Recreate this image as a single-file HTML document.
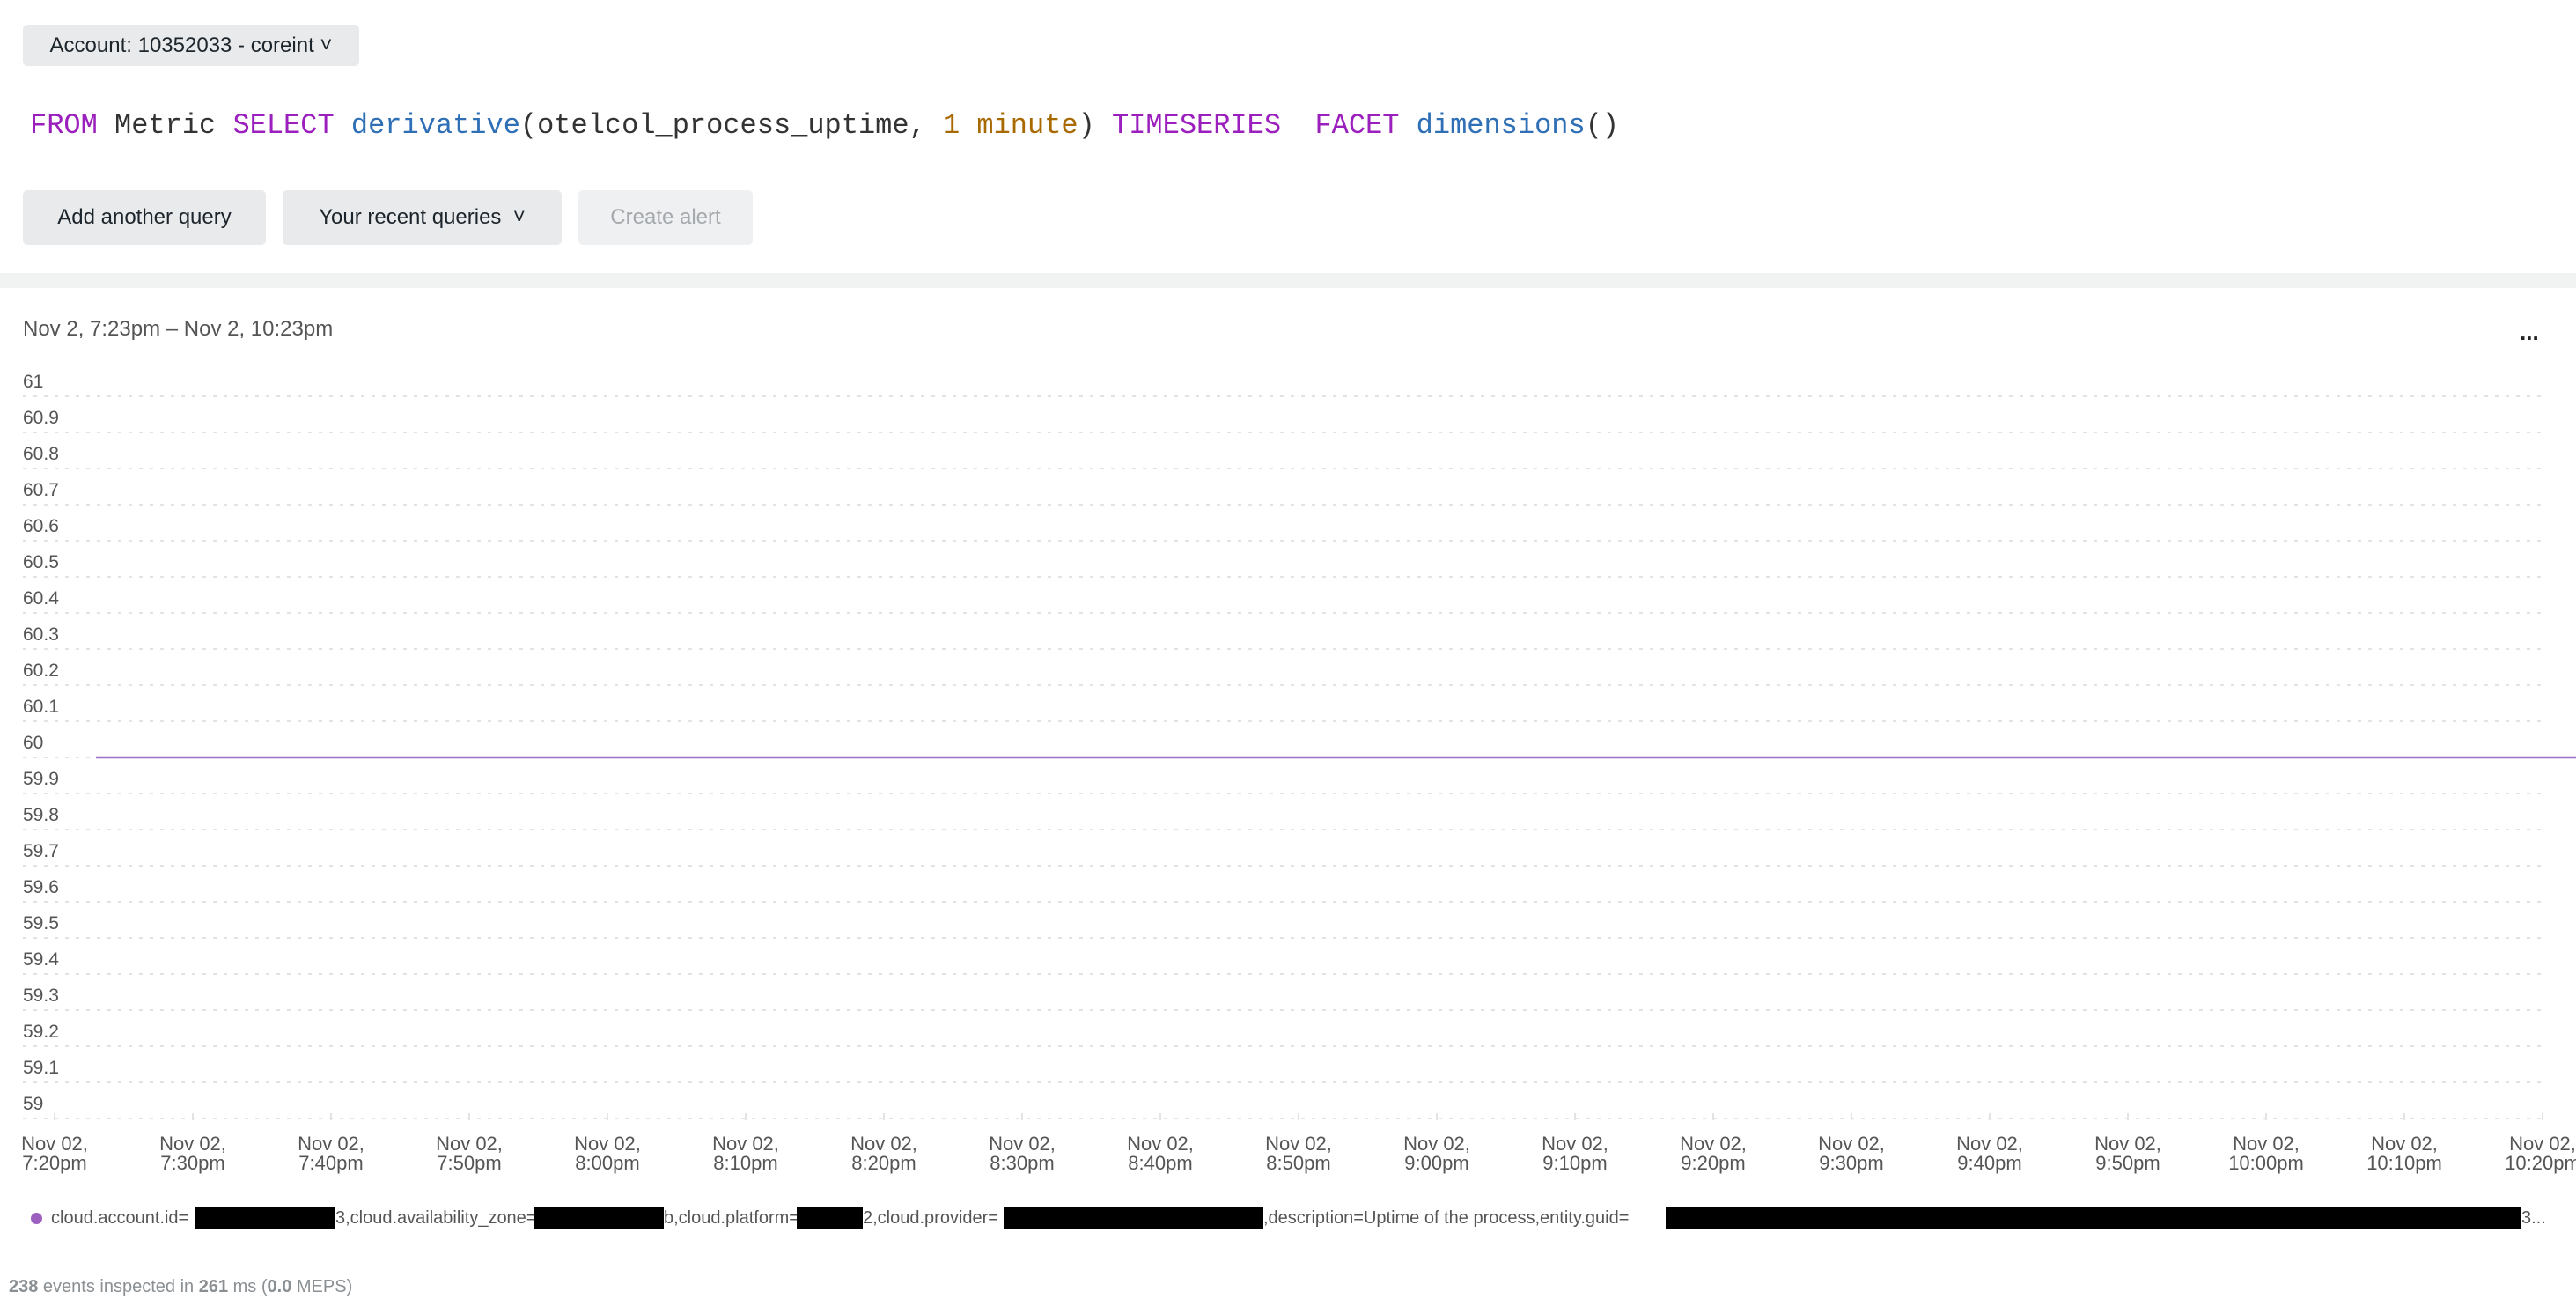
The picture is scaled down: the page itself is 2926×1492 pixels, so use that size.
<!DOCTYPE html>
<html><head><meta charset="utf-8"><style>
*{margin:0;padding:0;box-sizing:border-box}
body{width:2926px;height:1492px;background:#fff;font-family:"Liberation Sans",sans-serif;position:relative;overflow:hidden;color:#222}
.btn{position:absolute;background:#e8eaeb;border-radius:5px;font-size:24px;display:flex;align-items:center;justify-content:center;color:#1d252c}
.q{position:absolute;left:34px;top:124px;font-family:"Liberation Mono",monospace;font-size:32px;white-space:pre;color:#333}
.kw{color:#9b1fbd}.fn{color:#2f6fb5}.num{color:#a86a00}
.seg{position:absolute;top:1371px;font-size:20px;color:#555;white-space:pre;line-height:24px}
.red{position:absolute;top:1370px;height:26px;background:#000}
</style></head><body>
<div class="btn" style="left:26px;top:28px;width:382px;height:47px">Account: 10352033 - coreint ˅</div>
<div class="q"><span class="kw">FROM</span> Metric <span class="kw">SELECT</span> <span class="fn">derivative</span>(otelcol_process_uptime, <span class="num">1 minute</span>) <span class="kw">TIMESERIES</span>  <span class="kw">FACET</span> <span class="fn">dimensions</span>()</div>
<div class="btn" style="left:26px;top:216px;width:276px;height:62px">Add another query</div>
<div class="btn" style="left:321px;top:216px;width:317px;height:62px">Your recent queries &nbsp;˅</div>
<div class="btn" style="left:657px;top:216px;width:198px;height:62px;color:#a5a9ad;background:#eef0f1">Create alert</div>
<div style="position:absolute;left:0;top:310px;width:2926px;height:17px;background:#f1f2f2"></div>
<div style="position:absolute;left:26px;top:360px;font-size:24px;color:#555">Nov 2, 7:23pm – Nov 2, 10:23pm</div>
<div style="position:absolute;left:2862px;top:362px;font-size:26px;font-weight:bold;color:#222">...</div>
<svg id="chart" width="2926" height="1360" style="position:absolute;left:0;top:0"></svg>
<div style="position:absolute;left:35px;top:1377px;width:13px;height:13px;border-radius:50%;background:#9b5fc0"></div>
<div>
<span class="seg" style="left:58px">cloud.account.id=</span><div class="red" style="left:222px;width:159px"></div>
<span class="seg" style="left:381px">3,cloud.availability_zone=</span><div class="red" style="left:607px;width:147px"></div>
<span class="seg" style="left:754px">b,cloud.platform=</span><div class="red" style="left:905px;width:75px"></div>
<span class="seg" style="left:980px">2,cloud.provider=</span><div class="red" style="left:1140px;width:295px"></div>
<span class="seg" style="left:1435px">,description=Uptime of the process,entity.guid=</span><div class="red" style="left:1892px;width:972px"></div>
<span class="seg" style="left:2864px">3...</span>
</div>
<div style="position:absolute;left:10px;top:1450px;font-size:20px;color:#8a8f93"><b>238</b> events inspected in <b>261</b> ms (<b>0.0</b> MEPS)</div>
<script>
const yTicks=[59,59.1,59.2,59.3,59.4,59.5,59.6,59.7,59.8,59.9,60,60.1,60.2,60.3,60.4,60.5,60.6,60.7,60.8,60.9,61];
const xTickMinutes=[0,10,20,30,40,50,60,70,80,90,100,110,120,130,140,150,160,170,180];
const xTickLabels=["7:20pm","7:30pm","7:40pm","7:50pm","8:00pm","8:10pm","8:20pm","8:30pm","8:40pm","8:50pm","9:00pm","9:10pm","9:20pm","9:30pm","9:40pm","9:50pm","10:00pm","10:10pm","10:20pm"];
const seriesMinutes=[3,13,23,33,43,53,63,73,83,93,103,113,123,133,143,153,163,173,183];
const seriesValues=[60,60,60,60,60,60,60,60,60,60,60,60,60,60,60,60,60,60,60];
const NS="http://www.w3.org/2000/svg";
const svg=document.getElementById('chart');
const y=v=>1270-(v-59)*410;
const x=m=>62+m*15.7;
function mk(t,a){const e=document.createElementNS(NS,t);for(const k in a)e.setAttribute(k,a[k]);svg.appendChild(e);return e;}
yTicks.forEach(v=>{
 const g=mk('line',{x1:26,x2:2893,y1:y(v),y2:y(v),stroke:'#e2e3e4','stroke-width':2,'stroke-dasharray':'4 8'});
 
 
 const t=mk('text',{x:26,y:y(v)-10,'font-size':21,fill:'#555','font-family':'Liberation Sans, sans-serif'});
 t.textContent=String(v);
 
 
});
xTickMinutes.forEach((m,i)=>{
 const tk=mk('line',{x1:x(m),x2:x(m),y1:1264,y2:1272,stroke:'#e2e3e4','stroke-width':2});
 
 
 const t=mk('text',{x:x(m),y:1306,'font-size':22,fill:'#555','text-anchor':'middle','font-family':'Liberation Sans, sans-serif'});
 
 
 const a=document.createElementNS(NS,'tspan');a.setAttribute('x',x(m));a.textContent='Nov 02,';t.appendChild(a);
 const b=document.createElementNS(NS,'tspan');b.setAttribute('x',x(m));b.setAttribute('dy','22');b.textContent=xTickLabels[i];t.appendChild(b);
});
const pts=seriesMinutes.map((m,i)=>x(m)+','+y(seriesValues[i])).join(' ');
const pl=mk('polyline',{points:pts,fill:'none',stroke:'#9b6fc4','stroke-width':2.5});


</script>
</body></html>
